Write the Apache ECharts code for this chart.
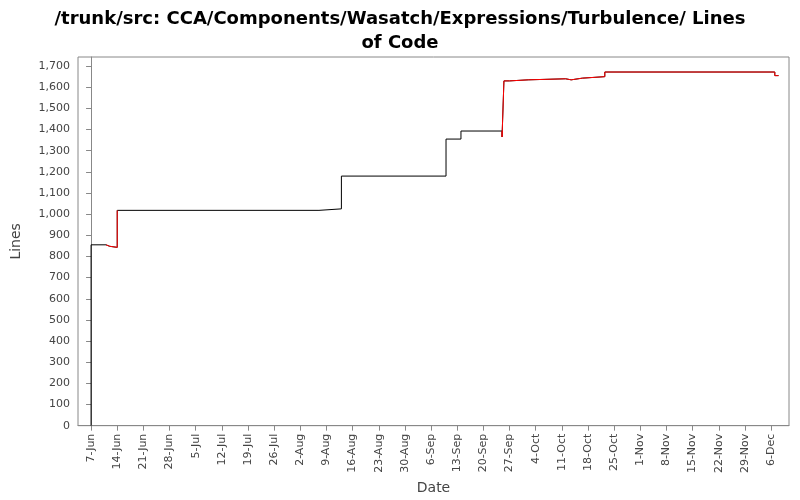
<!DOCTYPE html>
<html><head><meta charset="utf-8">
<script src="https://cdn.jsdelivr.net/npm/echarts@6/dist/echarts.min.js"></script>
<style>html,body{margin:0;background:#fff}#c{width:800px;height:500px}</style>
</head><body><div id="c"></div>
<script>
// days counted from 7-Jun
var days = [0, 0, 4, 5, 7, 61, 67, 95, 99, 110, 110.5, 112, 117, 127, 128.5, 131.5, 137.5, 183];
var lines = [0, 855, 848, 843, 1018, 1025, 1180, 1355, 1393, 1365, 1630, 1635, 1640, 1635, 1643, 1650, 1672, 1655];
var endDay = 184;
var tickDays = [0,7,14,21,28,35,42,49,56,63,70,77,84,91,98,105,112,119,126,133,140,147,154,161,168,175,182];
var months = ['Jan','Feb','Mar','Apr','May','Jun','Jul','Aug','Sep','Oct','Nov','Dec'];

// build step paths: hold value until next change, then jump
function stepPath(from, to) {
  var p = [[days[from], lines[from]]];
  for (var i=from+1;i<=to;i++) {
    p.push([days[i], lines[i-1]]);
    p.push([days[i], lines[i]]);
  }
  return p;
}
var all = stepPath(0, days.length-1);
all.push([endDay, lines[lines.length-1]]);
var red = [[days[2], lines[1]]].concat(stepPath(2, 4).slice(0)).concat([null]);
red = red.concat(stepPath(8, days.length-1).slice(1));
red.push([endDay, lines[lines.length-1]]);

function lab(v){ var d=new Date(2007,5,7+Math.round(v)); return d.getDate()+'-'+months[d.getMonth()]; }

var chart = echarts.init(document.getElementById('c'));
chart.setOption({
  animation:false,
  title:{text:'/trunk/src: CCA/Components/Wasatch/Expressions/Turbulence/ Lines\nof Code',left:'center',top:2,
    textStyle:{fontFamily:'DejaVu Sans',fontSize:18,fontWeight:'bold',color:'#000',lineHeight:24}},
  grid:{left:78,right:11,top:57,bottom:72,show:true,borderColor:'#888',borderWidth:1},
  xAxis:{type:'value',min:-3.5,max:186.8,name:'Date',nameLocation:'middle',nameGap:50,
    nameTextStyle:{fontFamily:'DejaVu Sans',fontSize:14,color:'#444'},
    splitLine:{show:false},axisLine:{onZero:false,lineStyle:{color:'#888'}},
    axisTick:{customValues:tickDays,lineStyle:{color:'#888'}},
    axisLabel:{customValues:tickDays,rotate:90,formatter:lab,fontFamily:'DejaVu Sans',fontSize:11,color:'#444'}},
  yAxis:{type:'value',min:0,max:1743,interval:100,name:'Lines',nameLocation:'middle',nameGap:55,
    nameTextStyle:{fontFamily:'DejaVu Sans',fontSize:14,color:'#444'},
    splitLine:{show:false},axisLine:{show:true,lineStyle:{color:'#888'}},axisTick:{show:true,lineStyle:{color:'#888'}},
    axisLabel:{fontFamily:'DejaVu Sans',fontSize:11,color:'#444',showMaxLabel:false,
      formatter:function(v){return v>1700?'':v.toLocaleString('en-US');}}},
  series:[
    {type:'line',data:all,symbol:'none',lineStyle:{color:'#000',width:1}},
    {type:'line',data:red,symbol:'none',connectNulls:false,lineStyle:{color:'#ff0000',width:1}}
  ]
});
</script></body></html>
